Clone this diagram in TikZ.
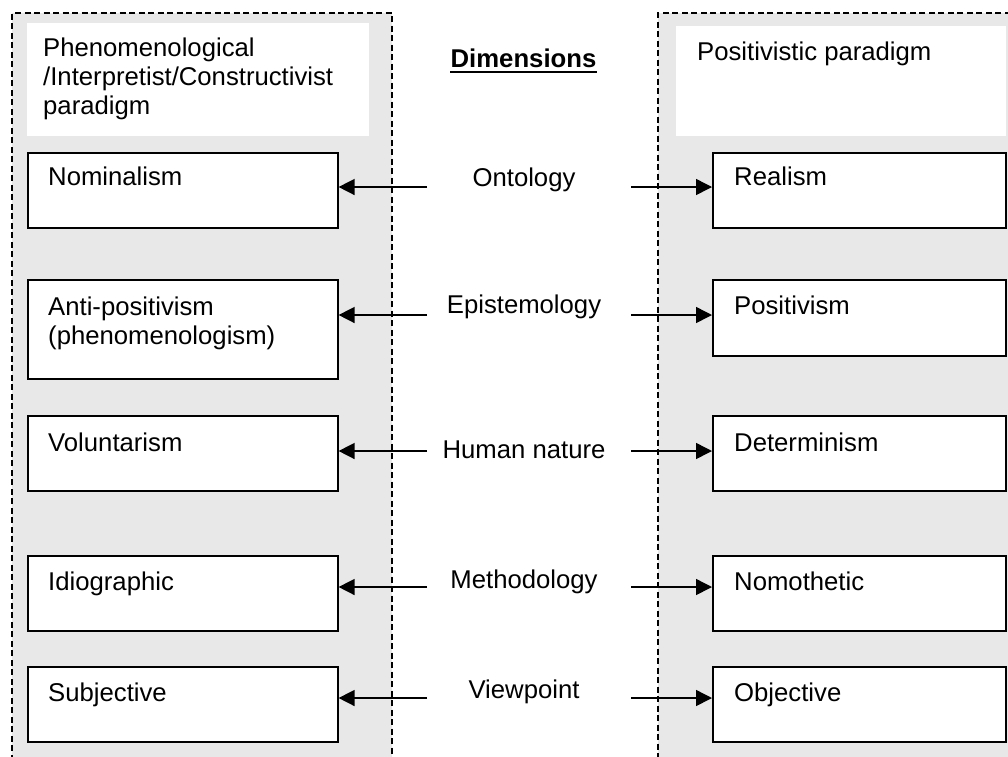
\documentclass[tikz,border=0pt]{standalone}
\usepackage{fontspec}
\setmainfont{Liberation Sans}
\usetikzlibrary{arrows.meta,calc}
\definecolor{panelgray}{RGB}{232,232,232}
\tikzset{
  panelline/.style={draw=black, line width=1.2pt, dash pattern=on 6pt off 3.5pt},
  headbox/.style={fill=white, anchor=north west, inner sep=0pt},
  boxnode/.style={draw=black, line width=1.6pt, fill=white, anchor=north west, inner sep=0pt},
  txt/.style={font=\fontsize{25.7}{29}\selectfont, inner sep=0pt, anchor=base west},
  dimtxt/.style={font=\fontsize{25.7}{29}\selectfont, inner sep=0pt, anchor=base},
  conn/.style={line width=1.5pt, -{Triangle[length=16pt,width=16pt]}},
}
\newcommand{\twolines}[2]{\begin{tabular}[t]{@{}l@{}}#1\\#2\end{tabular}}
\begin{document}
\begin{tikzpicture}[x=1pt,y=-1pt]
\useasboundingbox (0,0) rectangle (1008,756);
% panels
\fill[panelgray] (12,13) rectangle (392,770);
\fill[panelgray] (658,13) rectangle (1020,770);
\draw[panelline] (12,770) -- (12,13) -- (392,13) -- (392,770);
\draw[panelline] (1020,13) -- (658,13) -- (658,770);
% headers
\node[headbox, minimum width=342pt, minimum height=113pt] (lhead) at (27,23) {};
\node[headbox, minimum width=330pt, minimum height=110pt] (rhead) at (676,26) {};
\node[txt] (lheadT) at (43,56) {\begin{tabular}[t]{@{}l@{}}Phenomenological\\/Interpretist/Constructivist\\paradigm\end{tabular}};
\node[txt] (rheadT) at (697,60) {Positivistic paradigm};
% dimensions title
\node[dimtxt, font=\fontsize{25.7}{29}\selectfont\bfseries] (dim) at (523.5,67) {Dimensions};
\draw[line width=2pt] ([yshift=-5pt]dim.base west) -- ([yshift=-5pt]dim.base east);
% left boxes
\node[boxnode, minimum width=310pt, minimum height=75pt] (l1) at (27,152) {};
\node[boxnode, minimum width=310pt, minimum height=99pt] (l2) at (27,279) {};
\node[boxnode, minimum width=310pt, minimum height=75pt] (l3) at (27,415) {};
\node[boxnode, minimum width=310pt, minimum height=75pt] (l4) at (27,555) {};
\node[boxnode, minimum width=310pt, minimum height=75pt] (l5) at (27,666) {};
% right boxes
\node[boxnode, minimum width=293pt, minimum height=75pt] (r1) at (712,152) {};
\node[boxnode, minimum width=293pt, minimum height=76pt] (r2) at (712,279) {};
\node[boxnode, minimum width=293pt, minimum height=75pt] (r3) at (712,415) {};
\node[boxnode, minimum width=293pt, minimum height=75pt] (r4) at (712,555) {};
\node[boxnode, minimum width=293pt, minimum height=75pt] (r5) at (712,666) {};
% box texts
\node[txt] (l1T) at (48,185) {Nominalism};
\node[txt] (l2T) at (48,315) {\twolines{Anti-positivism}{(phenomenologism)}};
\node[txt] (l3T) at (48,451) {Voluntarism};
\node[txt] (l4T) at (48,590) {Idiographic};
\node[txt] (l5T) at (48,701) {Subjective};
\node[txt] (r1T) at (734,185) {Realism};
\node[txt] (r2T) at (734,314) {Positivism};
\node[txt] (r3T) at (734,451) {Determinism};
\node[txt] (r4T) at (734,590) {Nomothetic};
\node[txt] (r5T) at (734,701) {Objective};
% dimension labels
\node[dimtxt] (d1) at (524,186) {Ontology};
\node[dimtxt] (d2) at (524,313) {Epistemology};
\node[dimtxt] (d3) at (524,458) {Human nature};
\node[dimtxt] (d4) at (524,588) {Methodology};
\node[dimtxt] (d5) at (524,698) {Viewpoint};
% arrow start coordinates
\coordinate (a1l) at (427,187); \coordinate (a1r) at (631,187);
\coordinate (a2l) at (427,315); \coordinate (a2r) at (631,315);
\coordinate (a3l) at (427,451); \coordinate (a3r) at (631,451);
\coordinate (a4l) at (427,587); \coordinate (a4r) at (631,587);
\coordinate (a5l) at (427,698); \coordinate (a5r) at (631,698);
\draw[conn] (a1l) -- (a1l -| l1.east);
\draw[conn] (a1r) -- (a1r -| r1.west);
\draw[conn] (a2l) -- (a2l -| l2.east);
\draw[conn] (a2r) -- (a2r -| r2.west);
\draw[conn] (a3l) -- (a3l -| l3.east);
\draw[conn] (a3r) -- (a3r -| r3.west);
\draw[conn] (a4l) -- (a4l -| l4.east);
\draw[conn] (a4r) -- (a4r -| r4.west);
\draw[conn] (a5l) -- (a5l -| l5.east);
\draw[conn] (a5r) -- (a5r -| r5.west);
\end{tikzpicture}
\end{document}
